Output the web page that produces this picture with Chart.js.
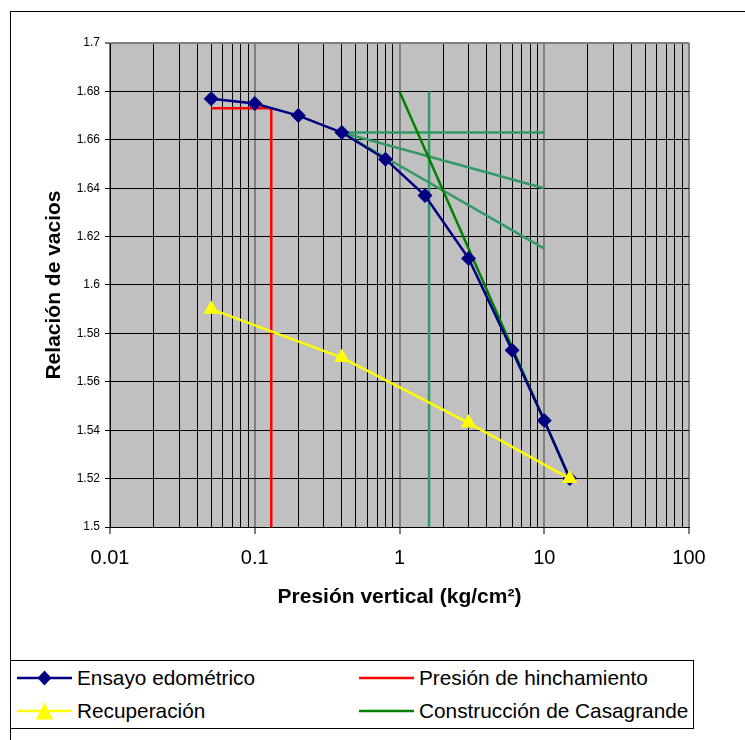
<!DOCTYPE html>
<html>
<head>
<meta charset="utf-8">
<title>Ensayo edométrico</title>
<script src="https://cdn.jsdelivr.net/npm/chart.js@4.4.0/dist/chart.umd.min.js"></script>
<style>
  body { margin: 0; background: #fff; font-family: "Liberation Sans", Arial, sans-serif; }
  #wrap { position: relative; width: 745px; height: 740px; overflow: hidden; }
  #frame { position: absolute; left: 10px; top: 11px; width: 760px; height: 760px;
           border-left: 1px solid #000; border-top: 1px solid #000; }
  #chartBox { position: absolute; left: 0; top: 0; width: 745px; height: 740px; }
  #legend { position: absolute; left: 10px; top: 660px; width: 682px; height: 67px;
            border: 1px solid #000; background: #fff; }
  .item { position: absolute; height: 24px; display: flex; align-items: center;
          font-size: 20.8px; color: #000; white-space: nowrap; }
  .item svg { margin-right: 5px; }
</style>
</head>
<body>
<div id="wrap">
  <div id="frame"></div>
  <div id="chartBox"><canvas id="edoChart"></canvas></div>
  <div id="legend"></div>
</div>
<script>
// ======================= DATA =======================

// Ensayo edométrico (carga)
const ensayoPresion = [0.05, 0.1, 0.2, 0.4, 0.8, 1.5, 3, 6, 10, 15];
const ensayoVacios  = [1.677, 1.675, 1.670, 1.663, 1.652, 1.637, 1.611, 1.573, 1.544, 1.520];

// Recuperación (descarga)
const recupPresion = [0.05, 0.4, 3, 15];
const recupVacios  = [1.590, 1.570, 1.543, 1.520];

// Presión de hinchamiento
const hinchPresion = [0.05, 0.13, 0.13];
const hinchVacios  = [1.673, 1.673, 1.5];

// Construcción de Casagrande: recta virgen
const casaPresion = [1, 15];
const casaVacios  = [1.68, 1.52];

// Líneas auxiliares de la construcción
const horizPresion = [0.4, 10];
const horizVacios  = [1.663, 1.663];
const bisecPresion = [0.4, 10];
const bisecVacios  = [1.663, 1.640];
const tangPresion  = [0.4, 10];
const tangVacios   = [1.663, 1.615];
const vertPresion  = [1.6, 1.6];
const vertVacios   = [1.68, 1.5];

// Ejes
const xDecades = [0.01, 0.1, 1, 10, 100];
const yMin = 1.5, yMax = 1.7, yStep = 0.02;

const legendOrder = ['Ensayo edométrico', 'Presión de hinchamiento',
                     'Recuperación', 'Construcción de Casagrande'];

// ======================= HELPERS =======================

const pts = (xs, ys) => xs.map((x, i) => ({ x: x, y: ys[i] }));
const isDecade = v => xDecades.some(d => Math.abs(v / d - 1) < 1e-9);
const isTop = v => Math.abs(v - yMax) < 1e-9;

const NAVY = '#000080', YELLOW = '#FFFF00', RED = '#FF0000',
      GREEN = '#008000', SEA = '#339966';

function lineSet(label, data, color, width) {
    return {
        label: label, data: data, showLine: true,
        borderColor: color, backgroundColor: color,
        borderWidth: width, pointRadius: 0, pointHoverRadius: 0
    };
}

// Plot area background
const plotBg = {
    id: 'plotBg',
    beforeDraw(chart) {
        const { ctx, chartArea: a } = chart;
        ctx.save();
        ctx.fillStyle = '#C0C0C0';
        ctx.fillRect(a.left, a.top, a.right - a.left, a.bottom - a.top);
        ctx.restore();
    }
};

// ======================= CHART =======================

Chart.defaults.font.family = '"Liberation Sans", Arial, sans-serif';

const recupSet = {
    label: 'Recuperación', data: pts(recupPresion, recupVacios), showLine: true,
    borderColor: YELLOW, backgroundColor: YELLOW, borderWidth: 2.5,
    pointStyle: 'triangle', pointRadius: 9, pointBorderWidth: 0, pointHoverRadius: 9
};
const ensayoSet = {
    label: 'Ensayo edométrico', data: pts(ensayoPresion, ensayoVacios), showLine: true,
    borderColor: NAVY, backgroundColor: NAVY, borderWidth: 2.5,
    pointStyle: 'rectRot', pointRadius: 7.5, pointBorderWidth: 0, pointHoverRadius: 7.5
};

const edoCtx = document.getElementById('edoChart').getContext('2d');

const edoChart = new Chart(edoCtx, {
    type: 'scatter',
    data: {
        datasets: [
            recupSet,
            ensayoSet,
            lineSet('Construcción de Casagrande', pts(casaPresion, casaVacios), GREEN, 2.5),
            lineSet(null, pts(horizPresion, horizVacios), SEA, 2.5),
            lineSet(null, pts(bisecPresion, bisecVacios), SEA, 2.5),
            lineSet(null, pts(tangPresion, tangVacios), SEA, 2.5),
            lineSet(null, pts(vertPresion, vertVacios), SEA, 2.5),
            lineSet('Presión de hinchamiento', pts(hinchPresion, hinchVacios), RED, 2.5)
        ]
    },
    options: {
        responsive: true,
        maintainAspectRatio: false,
        animation: false,
        layout: { padding: { left: 42, right: 56, top: 43, bottom: 129 } },
        plugins: {
            legend: { display: false },
            tooltip: { enabled: false }
        },
        scales: {
            x: {
                type: 'logarithmic',
                min: xDecades[0],
                max: xDecades[xDecades.length - 1],
                afterBuildTicks: scale => {
                    const ticks = [];
                    xDecades.forEach((d, i) => {
                        ticks.push({ value: d });
                        if (i < xDecades.length - 1) {
                            for (let k = 2; k <= 9; k++) ticks.push({ value: d * k });
                        }
                    });
                    scale.ticks = ticks;
                },
                afterFit: scale => { scale.height = 84; },
                ticks: {
                    autoSkip: false,
                    maxRotation: 0,
                    padding: 12,
                    color: '#000',
                    font: { size: 20 },
                    callback: v => isDecade(v) ? String(v) : ''
                },
                grid: {
                    color: c => (c.tick && isDecade(c.tick.value)) ? '#808080' : '#000',
                    lineWidth: c => (c.tick && isDecade(c.tick.value)) ? 2 : 1,
                    tickLength: 7,
                    tickWidth: 1,
                    tickColor: c => (c.tick && isDecade(c.tick.value)) ? '#000' : 'rgba(0,0,0,0)'
                },
                border: { color: '#000', width: 1 },
                title: {
                    display: true,
                    text: 'Presión vertical (kg/cm²)',
                    color: '#000',
                    font: { size: 21, weight: 'bold' },
                    padding: { top: 0, bottom: 1 }
                }
            },
            y: {
                min: yMin,
                max: yMax,
                afterFit: scale => { scale.width = 68; },
                ticks: {
                    stepSize: yStep,
                    padding: 5,
                    color: '#000',
                    font: { size: 12 },
                    callback: v => String(Number(v.toFixed(2)))
                },
                grid: {
                    color: c => (c.tick && isTop(c.tick.value)) ? '#808080' : '#000',
                    lineWidth: c => (c.tick && isTop(c.tick.value)) ? 2 : 1,
                    tickLength: 5,
                    tickWidth: 1,
                    tickColor: '#000'
                },
                border: { color: '#000', width: 1 },
                title: {
                    display: true,
                    text: 'Relación de vacios',
                    color: '#000',
                    font: { size: 21, weight: 'bold' },
                    padding: { top: 0, bottom: 0 }
                }
            }
        }
    },
    plugins: [plotBg]
});

// ======================= LEGEND =======================

function markerSvg(ds) {
    let mark = '';
    if (ds.pointStyle === 'rectRot') {
        mark = '<polygon points="27.5,2.5 34.5,10 27.5,17.5 20.5,10" fill="' + ds.backgroundColor + '"/>';
    } else if (ds.pointStyle === 'triangle') {
        mark = '<polygon points="27.5,1.5 36,18.5 19,18.5" fill="' + ds.backgroundColor + '"/>';
    }
    return '<svg width="55" height="20"><line x1="0" y1="10" x2="55" y2="10" stroke="' +
        ds.borderColor + '" stroke-width="2.5"/>' + mark + '</svg>';
}

const legendEl = document.getElementById('legend');
const colX = [6, 348];
const rowY = [5, 38];
legendOrder.forEach((name, i) => {
    const ds = edoChart.data.datasets.find(d => d.label === name);
    const item = document.createElement('div');
    item.className = 'item';
    item.style.left = colX[i % 2] + 'px';
    item.style.top = rowY[Math.floor(i / 2)] + 'px';
    item.innerHTML = markerSvg(ds) + '<span>' + name + '</span>';
    legendEl.appendChild(item);
});
</script>
</body>
</html>
